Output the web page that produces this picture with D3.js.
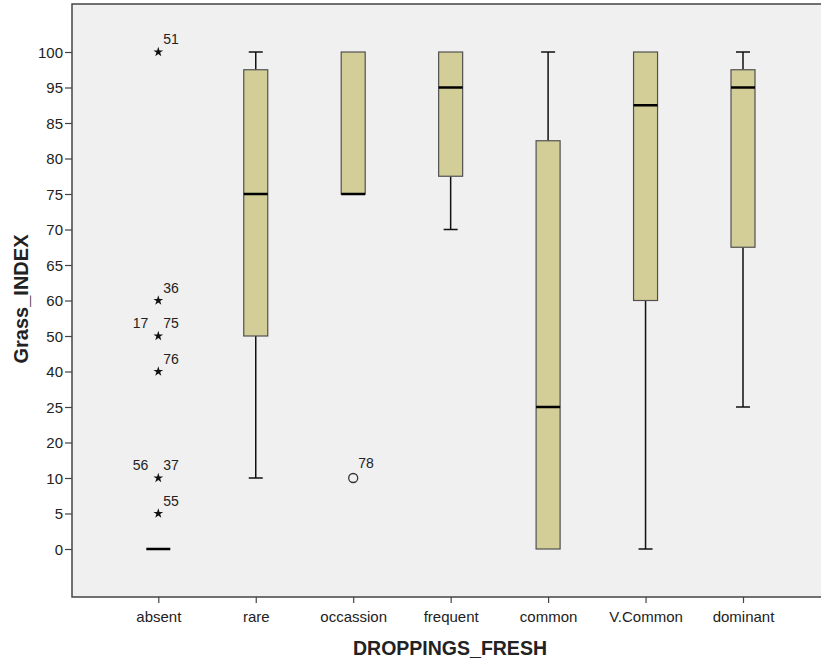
<!DOCTYPE html>
<html>
<head>
<meta charset="utf-8">
<script src="https://cdn.jsdelivr.net/npm/d3@7"></script>
<style>
	body { margin: 0; background: #fff; }
	text { font-family: 'Liberation Sans', Arial, sans-serif; fill: #222; }
</style>
</head>
<body>
<div id="chart_container"></div>
<script>
// Categories and tick labels
const categories = ['absent', 'rare', 'occassion', 'frequent', 'common', 'V.Common', 'dominant']
const yTickValues = [0, 5, 10, 20, 25, 40, 50, 60, 65, 70, 75, 80, 85, 95, 100]

// Box summaries per category (null = no whiskers)
const whiskerLow = [null, 10, 75, 70, 0, 0, 25]
const q1Values = [0, 50, 75, 77.5, 0, 60, 67.5]
const medianValues = [0, 75, 75, 95, 25, 90, 95]
const q3Values = [0, 97.5, 100, 100, 82.5, 100, 97.5]
const whiskerHigh = [null, 100, 100, 100, 100, 100, 100]

// Outliers: category, value, case labels (first on the right, second on the left), marker
const outlierCats = ['absent', 'absent', 'absent', 'absent', 'absent', 'absent', 'occassion']
const outlierValues = [100, 60, 50, 40, 10, 5, 10]
const outlierLabels = [['51'], ['36'], ['75', '17'], ['76'], ['37', '56'], ['55'], ['78']]
const outlierMarks = ['star', 'star', 'star', 'star', 'star', 'star', 'circle']

// Chart dimensions
const chartWidth = 821
const chartHeight = 662
const plotLeft = 72
const plotTop = 4
const plotBottom = 597

// Colors
const bg_color = '#f0f0f0'
const box_fill = '#d3ce97'
const box_stroke = '#505050'
const frame_color = '#444'

// Scales
let scaleX = d3.scalePoint()
	.domain(categories)
	.range([158.3, 743])
let scaleIdx = d3.scaleLinear()
	.domain([0, yTickValues.length - 1])
	.range([549, 52])
// Ordinal-style value axis: every distinct value gets an equal step
let scaleY = d3.scaleLinear()
	.domain(yTickValues)
	.range(yTickValues.map((v, i) => scaleIdx(i)))

let svg = d3.select('#chart_container')
	.append('svg')
	.attr('width', chartWidth)
	.attr('height', chartHeight)

// Plot background
svg.append('rect')
	.attr('x', plotLeft)
	.attr('y', plotTop)
	.attr('width', chartWidth - plotLeft)
	.attr('height', plotBottom - plotTop)
	.attr('fill', bg_color)

// Axes
let yAxis = svg.append('g')
	.attr('transform', 'translate(' + plotLeft + ',0)')
	.call(d3.axisLeft(scaleY).tickValues(yTickValues).tickSize(7).tickPadding(2))
yAxis.select('.domain').remove()
yAxis.selectAll('text').style('font-size', '15px').attr('dy', '0.34em')
yAxis.selectAll('line').attr('stroke', frame_color).attr('stroke-width', 1.2)

let xAxis = svg.append('g')
	.attr('transform', 'translate(0,' + plotBottom + ')')
	.call(d3.axisBottom(scaleX).tickSize(6).tickPadding(8))
xAxis.select('.domain').remove()
xAxis.selectAll('text').style('font-size', '15px')
xAxis.selectAll('line').attr('stroke', frame_color).attr('stroke-width', 1.2)

// Frame lines
svg.append('path')
	.attr('d', 'M' + chartWidth + ',' + plotTop + 'H' + plotLeft + 'V' + plotBottom + 'H' + chartWidth)
	.attr('fill', 'none')
	.attr('stroke', frame_color)
	.attr('stroke-width', 1.5)

// Boxes
const boxWidth = 24
const capWidth = 14
let boxes = svg.append('g')
categories.forEach((cat, i) => {
	let cx = scaleX(cat)
	let g = boxes.append('g')
	if (whiskerLow[i] != null) {
		g.append('line')
			.attr('x1', cx).attr('x2', cx)
			.attr('y1', scaleY(whiskerLow[i])).attr('y2', scaleY(q1Values[i]))
			.attr('stroke', '#111').attr('stroke-width', 1.5)
		g.append('line')
			.attr('x1', cx).attr('x2', cx)
			.attr('y1', scaleY(whiskerHigh[i])).attr('y2', scaleY(q3Values[i]))
			.attr('stroke', '#111').attr('stroke-width', 1.5)
		if (whiskerLow[i] < q1Values[i]) {
			g.append('line')
				.attr('x1', cx - capWidth / 2).attr('x2', cx + capWidth / 2)
				.attr('y1', scaleY(whiskerLow[i])).attr('y2', scaleY(whiskerLow[i]))
				.attr('stroke', '#111').attr('stroke-width', 1.5)
		}
		if (whiskerHigh[i] > q3Values[i]) {
			g.append('line')
				.attr('x1', cx - capWidth / 2).attr('x2', cx + capWidth / 2)
				.attr('y1', scaleY(whiskerHigh[i])).attr('y2', scaleY(whiskerHigh[i]))
				.attr('stroke', '#111').attr('stroke-width', 1.5)
		}
	}
	if (q3Values[i] > q1Values[i]) {
		g.append('rect')
			.attr('x', cx - boxWidth / 2)
			.attr('y', scaleY(q3Values[i]))
			.attr('width', boxWidth)
			.attr('height', scaleY(q1Values[i]) - scaleY(q3Values[i]))
			.attr('fill', box_fill)
			.attr('stroke', box_stroke)
			.attr('stroke-width', 1.2)
	}
	g.append('line')
		.attr('x1', cx - boxWidth / 2).attr('x2', cx + boxWidth / 2)
		.attr('y1', scaleY(medianValues[i])).attr('y2', scaleY(medianValues[i]))
		.attr('stroke', '#000').attr('stroke-width', 2.5)
})

// Outliers
let outs = svg.append('g')
outlierValues.forEach((v, i) => {
	let cx = scaleX(outlierCats[i])
	let cy = scaleY(v)
	if (outlierMarks[i] == 'star') {
		outs.append('path')
			.attr('d', d3.symbol().type(d3.symbolStar).size(30)())
			.attr('transform', 'translate(' + cx + ',' + cy + ')')
			.attr('fill', '#111')
	} else {
		outs.append('circle')
			.attr('cx', cx).attr('cy', cy).attr('r', 4.5)
			.attr('fill', 'none')
			.attr('stroke', '#333').attr('stroke-width', 1.3)
	}
	let dy = outlierMarks[i] == 'star' ? -8 : -10
	outs.append('text')
		.attr('x', cx + 5).attr('y', cy + dy)
		.style('font-size', '14px')
		.text(outlierLabels[i][0])
	if (outlierLabels[i].length > 1) {
		outs.append('text')
			.attr('x', cx - 10).attr('y', cy + dy)
			.attr('text-anchor', 'end')
			.style('font-size', '14px')
			.text(outlierLabels[i][1])
	}
})

// Axis titles
svg.append('text')
	.attr('x', 450).attr('y', 655)
	.attr('text-anchor', 'middle')
	.style('font-size', '19.5px').style('font-weight', 'bold')
	.text('DROPPINGS_FRESH')
svg.append('text')
	.attr('transform', 'translate(28,299) rotate(-90)')
	.attr('text-anchor', 'middle')
	.style('font-size', '20px').style('font-weight', 'bold')
	.text('Grass_INDEX')
</script>
</body>
</html>
